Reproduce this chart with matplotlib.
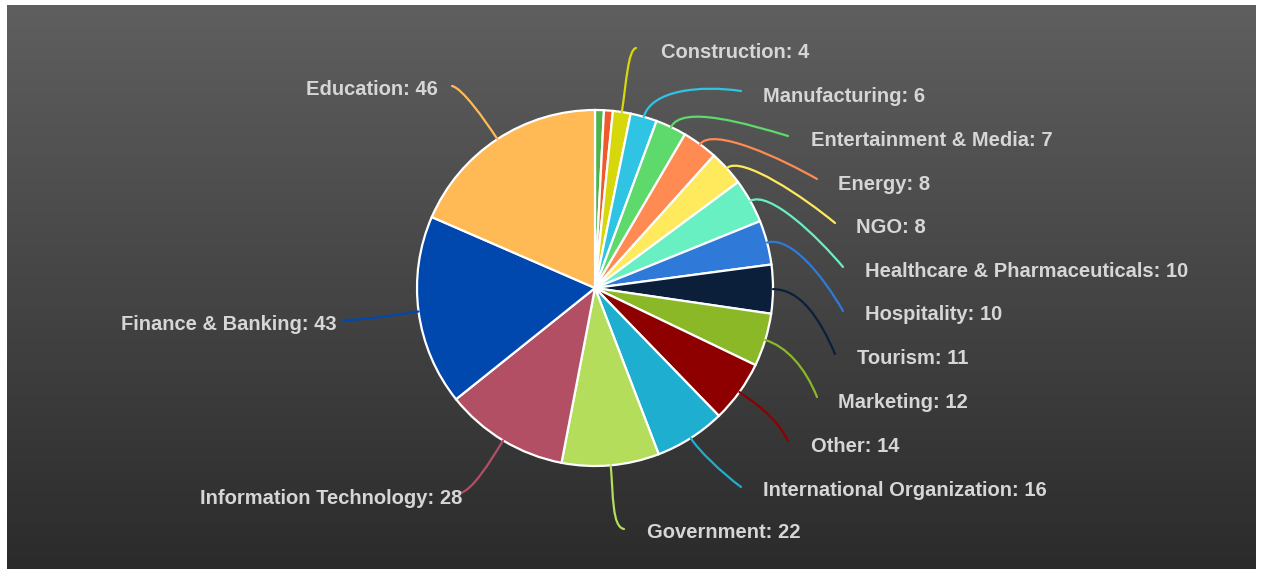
import matplotlib
matplotlib.use("Agg")
import matplotlib.pyplot as plt
import numpy as np
from matplotlib.path import Path
from matplotlib.patches import PathPatch

# ---------------- data ----------------
categories = ["", "", "Construction", "Manufacturing", "Entertainment & Media",
              "Energy", "NGO", "Healthcare & Pharmaceuticals", "Hospitality",
              "Tourism", "Marketing", "Other", "International Organization",
              "Government", "Information Technology", "Finance & Banking",
              "Education"]
values = [2, 2, 4, 6, 7, 8, 8, 10, 10, 11, 12, 14, 16, 22, 28, 43, 46]
colors = ["#4db34a", "#ef5a2a", "#d6d80c", "#2fc4e4", "#5ed96c", "#ff8a52",
          "#ffe95c", "#68f0c2", "#2f7ad8", "#0b1f3a", "#8ab826", "#8e0000",
          "#1eaed0", "#b3dd5a", "#b24f64", "#0048ad", "#ffba55"]

# ---------------- layout (pixel coords, y downward) ----------------
W, H = 1261, 569
CX, CY, R = 595, 288, 178
# label anchor (x, y) and horizontal alignment
label_pos = [None, None,
             (661, 52, "left"), (763, 96, "left"), (811, 140, "left"),
             (838, 184, "left"), (856, 227, "left"), (865, 271, "left"),
             (865, 315, "left"), (857, 358, "left"), (838, 402, "left"),
             (811, 446, "left"), (763, 490, "left"), (647, 533, "left"),
             (462, 498, "right"), (337, 324, "right"), (438, 89, "right")]
# leader-line end points and approach control offsets (pixels, y down)
line_end = [None, None,
            (636, 48), (741, 91), (788, 136), (817, 179), (835, 223),
            (843, 267), (843, 311), (835, 354), (817, 397), (788, 441),
            (741, 487), (624, 529), (460, 493), (343, 320), (452, 86)]
approach = [None, None,
            (-8, 2), (-40, -6), (-40, -12), (-35, -20), (-30, -25),
            (-25, -30), (-20, -35), (-15, -35), (-12, -30), (-12, -25),
            (-20, -15), (-12, -2), (12, -2), (25, 0), (10, 2)]
radial_len = [0, 0, 30, 28, 25, 22, 20, 22, 25, 28, 22, 15, 15, 30, 25, 20, 25]

def to_data(x, y):
    return x, H - y

fig = plt.figure(figsize=(W / 100, H / 100), dpi=100, facecolor="white")

# gradient background with white border
bg = fig.add_axes([7 / W, 0, (W - 12) / W, (H - 5) / H])
grad = np.linspace(0, 1, 256).reshape(-1, 1)
top = np.array([0x5f, 0x5f, 0x5f]) / 255
bot = np.array([0x2b, 0x2b, 0x2b]) / 255
img = top[None, None, :] * (1 - grad[:, :, None]) + bot[None, None, :] * grad[:, :, None]
bg.imshow(img, aspect="auto", extent=[0, 1, 0, 1])
bg.set_axis_off()

ax = fig.add_axes([0, 0, 1, 1])
ax.patch.set_alpha(0)
cx, cy = to_data(CX, CY)
wedges, _ = ax.pie(values, colors=colors, startangle=90, counterclock=False,
                   center=(cx, cy), radius=R, frame=False,
                   wedgeprops=dict(edgecolor="white", linewidth=1.6))
ax.set_xlim(0, W)
ax.set_ylim(0, H)
ax.set_aspect("auto")
ax.set_axis_off()

for i, w in enumerate(wedges):
    if label_pos[i] is None:
        continue
    mid = np.deg2rad((w.theta1 + w.theta2) / 2)
    ux, uy = np.cos(mid), np.sin(mid)
    p0 = (cx + R * ux, cy + R * uy)
    p1 = (p0[0] + radial_len[i] * ux, p0[1] + radial_len[i] * uy)
    ex, ey = to_data(*line_end[i])
    ox, oy = approach[i]
    p2 = (ex + ox, ey - oy)
    p3 = (ex, ey)
    path = Path([p0, p1, p2, p3], [Path.MOVETO, Path.CURVE4, Path.CURVE4, Path.CURVE4])
    ax.add_patch(PathPatch(path, facecolor="none", edgecolor=colors[i], lw=1.6,
                           capstyle="round"))
    lx, ly, ha = label_pos[i]
    tx, ty = to_data(lx, ly)
    ax.text(tx, ty, f"{categories[i]}: {values[i]}", ha=ha, va="center",
            color="#d6d6d6", fontsize=14.5, fontweight="bold",
            family="Liberation Sans")

fig.savefig("out.png", dpi=100, facecolor="white")
